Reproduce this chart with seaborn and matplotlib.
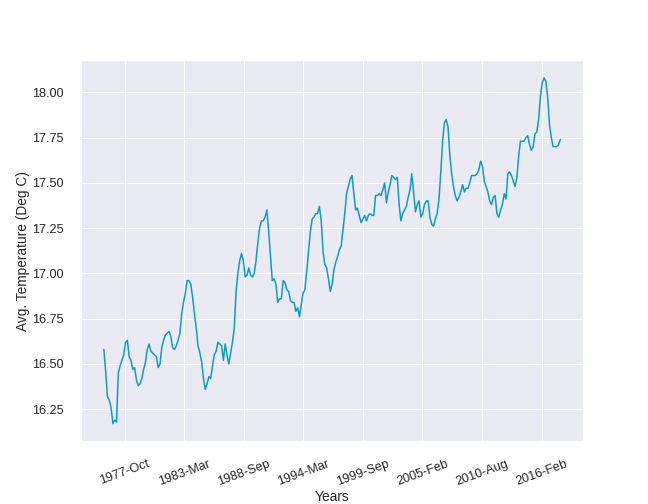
import pandas as pd
import matplotlib
matplotlib.use("Agg")
import matplotlib.pyplot as plt
import matplotlib.dates as mdates
import seaborn as sns

# Rolling average temperature, one reading every 2 months from Nov 1975
start_month = "1975-11-01"
avg_temp = [
    16.58, 16.46, 16.32, 16.30, 16.26, 16.17, 16.19, 16.18, 16.45, 16.49,
    16.52, 16.55, 16.62, 16.63, 16.54, 16.52, 16.47, 16.48, 16.41, 16.38,
    16.39, 16.42, 16.47, 16.51, 16.58, 16.61, 16.57, 16.56, 16.55, 16.54,
    16.48, 16.50, 16.59, 16.63, 16.66, 16.67, 16.68, 16.65, 16.59, 16.58,
    16.60, 16.63, 16.67, 16.78, 16.84, 16.89, 16.96, 16.96, 16.94, 16.87,
    16.78, 16.70, 16.60, 16.56, 16.51, 16.42, 16.36, 16.39, 16.43, 16.42,
    16.49, 16.55, 16.57, 16.62, 16.61, 16.60, 16.52, 16.61, 16.55, 16.50,
    16.56, 16.62, 16.70, 16.90, 17.00, 17.07, 17.11, 17.07, 16.98, 16.99,
    17.03, 16.99, 16.98, 17.00, 17.07, 17.17, 17.25, 17.29, 17.29, 17.31,
    17.35, 17.23, 17.10, 16.96, 16.97, 16.94, 16.84, 16.86, 16.86, 16.96,
    16.95, 16.91, 16.90, 16.85, 16.84, 16.84, 16.79, 16.81, 16.76, 16.83,
    16.89, 16.91, 17.01, 17.12, 17.23, 17.30, 17.31, 17.33, 17.33, 17.37,
    17.29, 17.12, 17.05, 17.03, 16.97, 16.90, 16.94, 17.02, 17.06, 17.09,
    17.13, 17.15, 17.24, 17.33, 17.44, 17.48, 17.52, 17.54, 17.44, 17.35,
    17.36, 17.32, 17.28, 17.30, 17.32, 17.29, 17.32, 17.33, 17.32, 17.32,
    17.43, 17.43, 17.44, 17.43, 17.46, 17.50, 17.39, 17.45, 17.49, 17.54,
    17.53, 17.52, 17.53, 17.38, 17.29, 17.33, 17.35, 17.37, 17.42, 17.46,
    17.55, 17.45, 17.34, 17.38, 17.40, 17.31, 17.33, 17.38, 17.40, 17.40,
    17.31, 17.27, 17.26, 17.30, 17.33, 17.41, 17.56, 17.73, 17.83, 17.85,
    17.81, 17.65, 17.55, 17.48, 17.43, 17.40, 17.42, 17.45, 17.49, 17.45,
    17.47, 17.47, 17.50, 17.54, 17.54, 17.54, 17.55, 17.57, 17.62, 17.59,
    17.51, 17.48, 17.45, 17.40, 17.38, 17.42, 17.43, 17.33, 17.31, 17.35,
    17.38, 17.44, 17.41, 17.55, 17.56, 17.54, 17.51, 17.48, 17.53, 17.65,
    17.73, 17.73, 17.73, 17.75, 17.76, 17.71, 17.68, 17.70, 17.77, 17.78,
    17.85, 17.98, 18.05, 18.08, 18.06, 17.97, 17.82, 17.75, 17.70, 17.70,
    17.70, 17.71, 17.74,
]

# x ticks fall every 2000 days
tick_start = "1977-10-08"
tick_count = 8

df = pd.DataFrame({
    "date": pd.date_range(start_month, periods=len(avg_temp), freq="2MS"),
    "temp": avg_temp,
})

sns.set_theme(font_scale=1.15)
plt.rcParams["font.family"] = ["Liberation Sans", "DejaVu Sans"]

fig, ax = plt.subplots(figsize=(9, 7), dpi=72)
fig.subplots_adjust(left=0.125, right=0.9, top=0.88, bottom=0.125)

sns.lineplot(data=df, x="date", y="temp", color="#0b9ac4", linewidth=1.5, ax=ax)

ticks = pd.date_range(tick_start, periods=tick_count, freq="2000D")
ax.set_xticks(ticks)
ax.xaxis.set_major_formatter(mdates.DateFormatter("%Y-%b"))
plt.setp(ax.get_xticklabels(), rotation=20)
ax.tick_params(axis="both", pad=11)

ax.set_xlabel("Years", labelpad=2)
ax.set_ylabel("Avg. Temperature (Deg C)", labelpad=2)

fig.savefig("out.png", dpi=72)
